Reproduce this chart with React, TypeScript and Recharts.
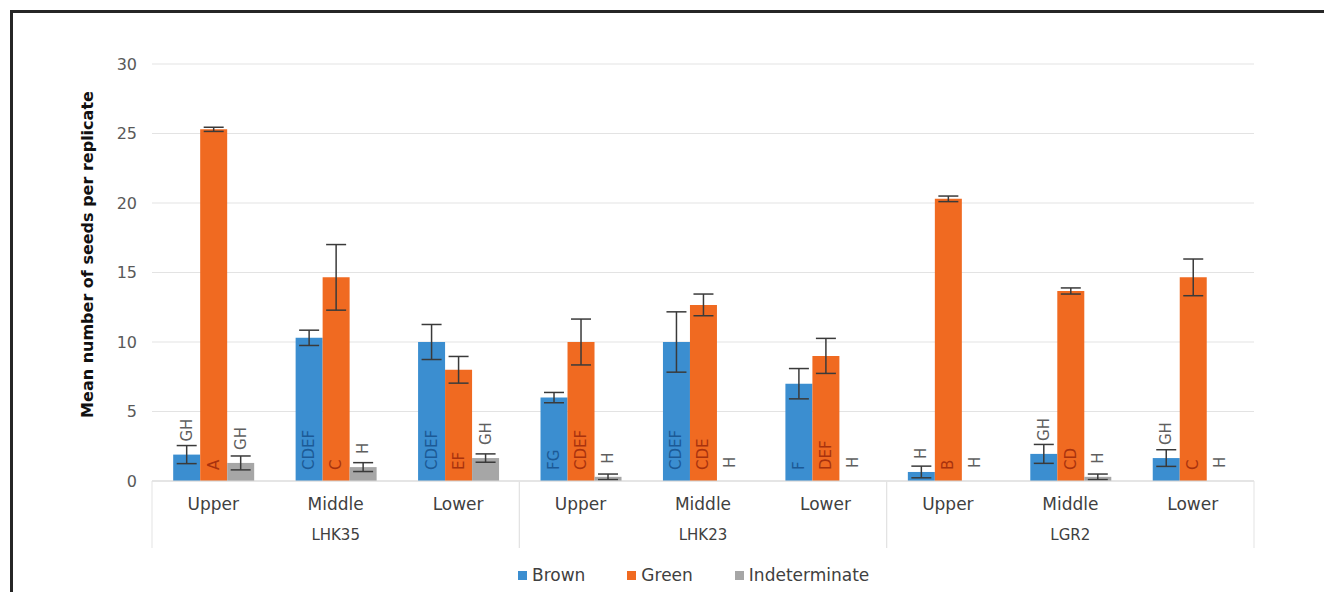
import { BarChart, Bar, XAxis, YAxis, CartesianGrid, ErrorBar, LabelList } from "recharts";

// tree position within each line
const positions = ["Upper", "Middle", "Lower", "Upper", "Middle", "Lower", "Upper", "Middle", "Lower"];
const lines = ["LHK35", "LHK35", "LHK35", "LHK23", "LHK23", "LHK23", "LGR2", "LGR2", "LGR2"];

const brown = [1.9, 10.3, 10.0, 6.0, 10.0, 7.0, 0.65, 1.95, 1.65];
const brownErr = [0.65, 0.55, 1.26, 0.37, 2.17, 1.09, 0.42, 0.68, 0.6];
const green = [25.3, 14.65, 8.0, 10.0, 12.67, 9.0, 20.3, 13.67, 14.65];
const greenErr = [0.15, 2.36, 0.96, 1.65, 0.78, 1.26, 0.2, 0.22, 1.32];
const indet = [1.3, 1.0, 1.65, 0.3, 0, 0, 0, 0.3, 0];
const indetErr = [0.5, 0.32, 0.3, 0.2, null, null, null, 0.2, null];

// significance letters
const brownTags = ["GH", "CDEF", "CDEF", "FG", "CDEF", "F", "H", "GH", "GH"];
const greenTags = ["A", "C", "EF", "CDEF", "CDE", "DEF", "B", "CD", "C"];
const indetTags = ["GH", "H", "GH", "H", "H", "H", "H", "H", "H"];

const data = positions.map((pos, i) => ({
  pos,
  line: lines[i],
  brown: brown[i],
  brownErr: brownErr[i],
  brownTag: brownTags[i],
  green: green[i],
  greenErr: greenErr[i],
  greenTag: greenTags[i],
  indet: indet[i],
  indetErr: indetErr[i],
  indetTag: indetTags[i],
}));

const FONT = "'DejaVu Sans', sans-serif";
const BLUE = "#3b8ed0";
const ORANGE = "#f06a21";
const GRAY = "#a6a6a6";

function tagLabel(insideColor: string) {
  return (props: any) => {
    const vb = props.viewBox ?? props;
    const x = Number(vb.x ?? props.x);
    const y = Number(vb.y ?? props.y);
    const w = Number(vb.width ?? props.width);
    const h = Number(vb.height ?? props.height);
    const text = String(props.value ?? "");
    const cx = x + w / 2;
    const fits = h > text.length * 10 + 16;
    const sy = fits ? y + h - 11 : y - 13;
    return (
      <text
        x={cx}
        y={sy}
        transform={`rotate(-90 ${cx} ${sy})`}
        textAnchor="start"
        dominantBaseline="central"
        fontSize={15}
        fontFamily={FONT}
        fill={fits ? insideColor : "#5f5f5f"}
      >
        {text}
      </text>
    );
  };
}

// group name plus the separators of the two-level category axis
function GroupTick(props: any) {
  const { x, y, payload } = props;
  const half = payload?.offset || 183.7;
  return (
    <g>
      <line x1={x - half} x2={x - half} y1={y - 40} y2={y + 27} stroke="#e3e3e3" />
      <line x1={x + half} x2={x + half} y1={y - 40} y2={y + 27} stroke="#e3e3e3" />
      <text x={x} y={y + 14} textAnchor="middle" dominantBaseline="central" fontSize={15} fontFamily={FONT} fill="#404040">
        {payload.value}
      </text>
    </g>
  );
}

function YTitle(props: any) {
  const vb = props.viewBox;
  const cx = vb.x - 13;
  const cy = vb.y + vb.height / 2 - 18;
  return (
    <text
      x={cx}
      y={cy}
      transform={`rotate(-90 ${cx} ${cy})`}
      textAnchor="middle"
      dominantBaseline="central"
      fontSize={16}
      fontWeight="bold"
      fontFamily={FONT}
      fill="#111"
    >
      Mean number of seeds per replicate
    </text>
  );
}

const legendItems = [
  { name: "Brown", color: BLUE },
  { name: "Green", color: ORANGE },
  { name: "Indeterminate", color: GRAY },
];

export default function App() {
  return (
    <div
      style={{
        position: "absolute",
        left: 0,
        top: 0,
        width: 1324,
        height: 592,
        overflow: "hidden",
        background: "#fff",
        fontFamily: FONT,
      }}
    >
      <div
        style={{
          position: "absolute",
          left: 10,
          top: 10,
          width: 1400,
          height: 700,
          borderLeft: "3px solid #262626",
          borderTop: "3px solid #262626",
        }}
      />
      <div style={{ position: "absolute", left: 0, top: 0 }}>
        <BarChart
          width={1324}
          height={592}
          data={data}
          margin={{ top: 64, right: 70, bottom: 41, left: 100 }}
          barCategoryGap="17.3%"
          barGap={0}
        >
          <CartesianGrid vertical={false} stroke="#e3e3e3" xAxisId="b_pos" />
          <XAxis
            xAxisId="b_pos"
            dataKey="pos"
            height={40}
            tickLine={false}
            tickMargin={11}
            axisLine={{ stroke: "#d9d9d9" }}
            tick={{ fill: "#404040", fontSize: 17, fontFamily: FONT }}
            interval={0}
          />
          <XAxis
            xAxisId="c_grp"
            dataKey="line"
            allowDuplicatedCategory={false}
            height={30}
            tickLine={false}
            tickSize={0}
            tickMargin={0}
            axisLine={false}
            tick={<GroupTick />}
            interval={0}
          />
          <YAxis
            width={52}
            domain={[0, 30]}
            ticks={[0, 5, 10, 15, 20, 25, 30]}
            axisLine={false}
            tickLine={false}
            tickMargin={9}
            tick={{ fill: "#595959", fontSize: 16, fontFamily: FONT }}
            label={{ content: YTitle }}
          />
          <Bar dataKey="brown" xAxisId="b_pos" fill={BLUE} minPointSize={0.01} isAnimationActive={false}>
            <ErrorBar dataKey="brownErr" direction="y" width={10} stroke="#3a3a3a" strokeWidth={1.5} />
            <LabelList dataKey="brownTag" content={tagLabel("#1c5a96")} />
          </Bar>
          <Bar dataKey="green" xAxisId="b_pos" fill={ORANGE} minPointSize={0.01} isAnimationActive={false}>
            <ErrorBar dataKey="greenErr" direction="y" width={10} stroke="#3a3a3a" strokeWidth={1.5} />
            <LabelList dataKey="greenTag" content={tagLabel("#a8320e")} />
          </Bar>
          <Bar dataKey="indet" xAxisId="b_pos" fill={GRAY} minPointSize={0.01} isAnimationActive={false}>
            <ErrorBar dataKey="indetErr" direction="y" width={10} stroke="#3a3a3a" strokeWidth={1.5} />
            <LabelList dataKey="indetTag" content={tagLabel("#5f5f5f")} />
          </Bar>
        </BarChart>
      </div>
      <div
        style={{
          position: "absolute",
          left: 518,
          top: 565,
          display: "flex",
          alignItems: "center",
          gap: 42,
          fontSize: 17,
          color: "#404040",
        }}
      >
        {legendItems.map((it) => (
          <div key={it.name} style={{ display: "flex", alignItems: "center", gap: 5 }}>
            <span style={{ width: 9, height: 9, background: it.color, display: "inline-block" }} />
            <span>{it.name}</span>
          </div>
        ))}
      </div>
    </div>
  );
}
